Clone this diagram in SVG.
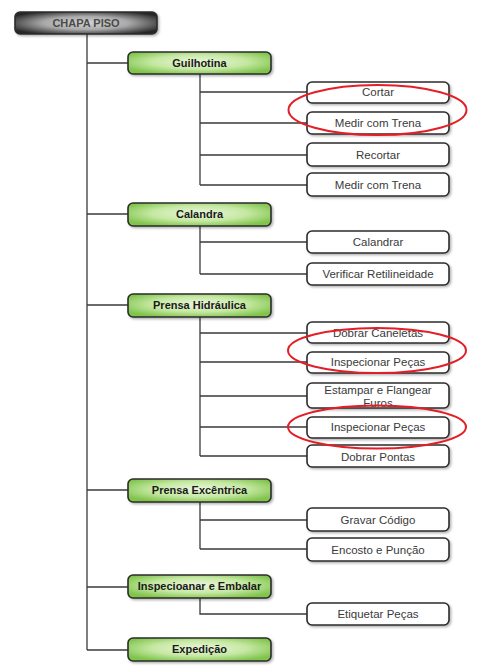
<svg xmlns="http://www.w3.org/2000/svg" width="482" height="672" viewBox="0 0 482 672">
<defs>
<radialGradient id="gGreen" cx="0.5" cy="0.45" r="0.6">
<stop offset="0" stop-color="#eaf7dc"/>
<stop offset="0.55" stop-color="#c6e8a3"/>
<stop offset="1" stop-color="#7fc44c"/>
</radialGradient>
<radialGradient id="gGray" cx="0.5" cy="0.5" r="0.6">
<stop offset="0" stop-color="#d4d4d4"/>
<stop offset="0.5" stop-color="#a9a9a9"/>
<stop offset="1" stop-color="#262626"/>
</radialGradient>
<filter id="sh" x="-10%" y="-20%" width="125%" height="160%">
<feDropShadow dx="1.5" dy="1.5" stdDeviation="1.2" flood-color="#000" flood-opacity="0.3"/>
</filter>
</defs>
<style>
.box{stroke:#2b2b2b;stroke-width:1.6;filter:url(#sh)}
.grn{fill:url(#gGreen)}
.wht{fill:#ffffff}
.root{fill:url(#gGray)}
.lbl{font-family:"Liberation Sans",Arial,sans-serif;font-size:11.5px;fill:#3a3a3a;text-anchor:middle}
.hdr{font-family:"Liberation Sans",Arial,sans-serif;font-size:11px;font-weight:bold;fill:#1a1a1a;text-anchor:middle}
.rt{font-family:"Liberation Sans",Arial,sans-serif;font-size:11px;font-weight:bold;fill:#4a4a4a;text-anchor:middle}
.con{stroke:#3a3a3a;stroke-width:1.3;fill:none}
.ell{stroke:#e41e26;stroke-width:2;fill:none}
</style>
<rect width="482" height="672" fill="#ffffff"/>
<g id="connectors" class="con">
<path d="M87 34 V650"/>
<path d="M87 63 H128"/>
<path d="M87 214 H128"/>
<path d="M87 305 H128"/>
<path d="M87 490 H128"/>
<path d="M87 587 H128"/>
<path d="M87 650 H128"/>
<path d="M200 74 V185"/>
<path d="M200 92 H307 M200 123 H307 M200 155 H307 M200 185 H307"/>
<path d="M200 226 V274"/>
<path d="M200 242 H307 M200 274 H307"/>
<path d="M200 317 V456"/>
<path d="M200 333 H307 M200 362 H307 M200 396 H307 M200 427 H307 M200 456 H307"/>
<path d="M200 502 V549"/>
<path d="M200 520 H307 M200 549 H307"/>
<path d="M200 598 V614 H307"/>
</g>
<g id="root"><rect class="box root" x="15" y="12" width="142" height="22" rx="5"/><text class="rt" x="86" y="27">CHAPA PISO</text></g>
<g id="guilhotina"><rect class="box grn" x="128" y="52" width="143" height="22" rx="5"/><text class="hdr" x="199.5" y="67">Guilhotina</text></g>
<g id="cortar"><rect class="box wht" x="307" y="82" width="142" height="21" rx="5"/><text class="lbl" x="378" y="96">Cortar</text></g>
<g id="medir1"><rect class="box wht" x="307" y="112" width="142" height="22" rx="5"/><text class="lbl" x="378" y="127">Medir com Trena</text></g>
<g id="recortar"><rect class="box wht" x="307" y="143" width="142" height="23" rx="5"/><text class="lbl" x="378" y="159">Recortar</text></g>
<g id="medir2"><rect class="box wht" x="307" y="173" width="142" height="23" rx="5"/><text class="lbl" x="378" y="189">Medir com Trena</text></g>
<g id="calandra"><rect class="box grn" x="128" y="203" width="143" height="23" rx="5"/><text class="hdr" x="199.5" y="218">Calandra</text></g>
<g id="calandrar"><rect class="box wht" x="307" y="231" width="142" height="22" rx="5"/><text class="lbl" x="378" y="246">Calandrar</text></g>
<g id="verificar"><rect class="box wht" x="307" y="263" width="142" height="22" rx="5"/><text class="lbl" x="378" y="278">Verificar Retilineidade</text></g>
<g id="prensa-hidraulica"><rect class="box grn" x="128" y="294" width="143" height="23" rx="5"/><text class="hdr" x="199.5" y="309">Prensa Hidráulica</text></g>
<g id="dobrar-caneletas"><rect class="box wht" x="307" y="322" width="142" height="21" rx="5"/><text class="lbl" x="378" y="337">Dobrar Caneletas</text></g>
<g id="inspecionar1"><rect class="box wht" x="307" y="352" width="142" height="21" rx="5"/><text class="lbl" x="378" y="366">Inspecionar Peças</text></g>
<g id="estampar"><rect class="box wht" x="307" y="383" width="142" height="25" rx="5"/><text class="lbl" x="378" y="394">Estampar e Flangear</text><text class="lbl" x="378" y="407">Furos</text></g>
<g id="inspecionar2"><rect class="box wht" x="307" y="417" width="142" height="21" rx="5"/><text class="lbl" x="378" y="431">Inspecionar Peças</text></g>
<g id="dobrar-pontas"><rect class="box wht" x="307" y="445" width="142" height="22" rx="5"/><text class="lbl" x="378" y="461">Dobrar Pontas</text></g>
<g id="prensa-excentrica"><rect class="box grn" x="128" y="479" width="143" height="23" rx="5"/><text class="hdr" x="199.5" y="494">Prensa Excêntrica</text></g>
<g id="gravar"><rect class="box wht" x="307" y="508" width="142" height="23" rx="5"/><text class="lbl" x="378" y="524">Gravar Código</text></g>
<g id="encosto"><rect class="box wht" x="307" y="538" width="142" height="23" rx="5"/><text class="lbl" x="378" y="554">Encosto e Punção</text></g>
<g id="inspecioanar-embalar"><rect class="box grn" x="128" y="575" width="143" height="23" rx="5"/><text class="hdr" x="199.5" y="590">Inspecioanar e Embalar</text></g>
<g id="etiquetar"><rect class="box wht" x="307" y="603" width="142" height="22" rx="5"/><text class="lbl" x="378" y="618">Etiquetar Peças</text></g>
<g id="expedicao"><rect class="box grn" x="128" y="638" width="143" height="23" rx="5"/><text class="hdr" x="199.5" y="653">Expedição</text></g>
<g id="highlights">
<ellipse class="ell" cx="377.5" cy="110" rx="89" ry="25"/>
<ellipse class="ell" cx="377" cy="350.5" rx="89" ry="22.5"/>
<ellipse class="ell" cx="377" cy="427" rx="89" ry="21.5"/>
</g>
</svg>
